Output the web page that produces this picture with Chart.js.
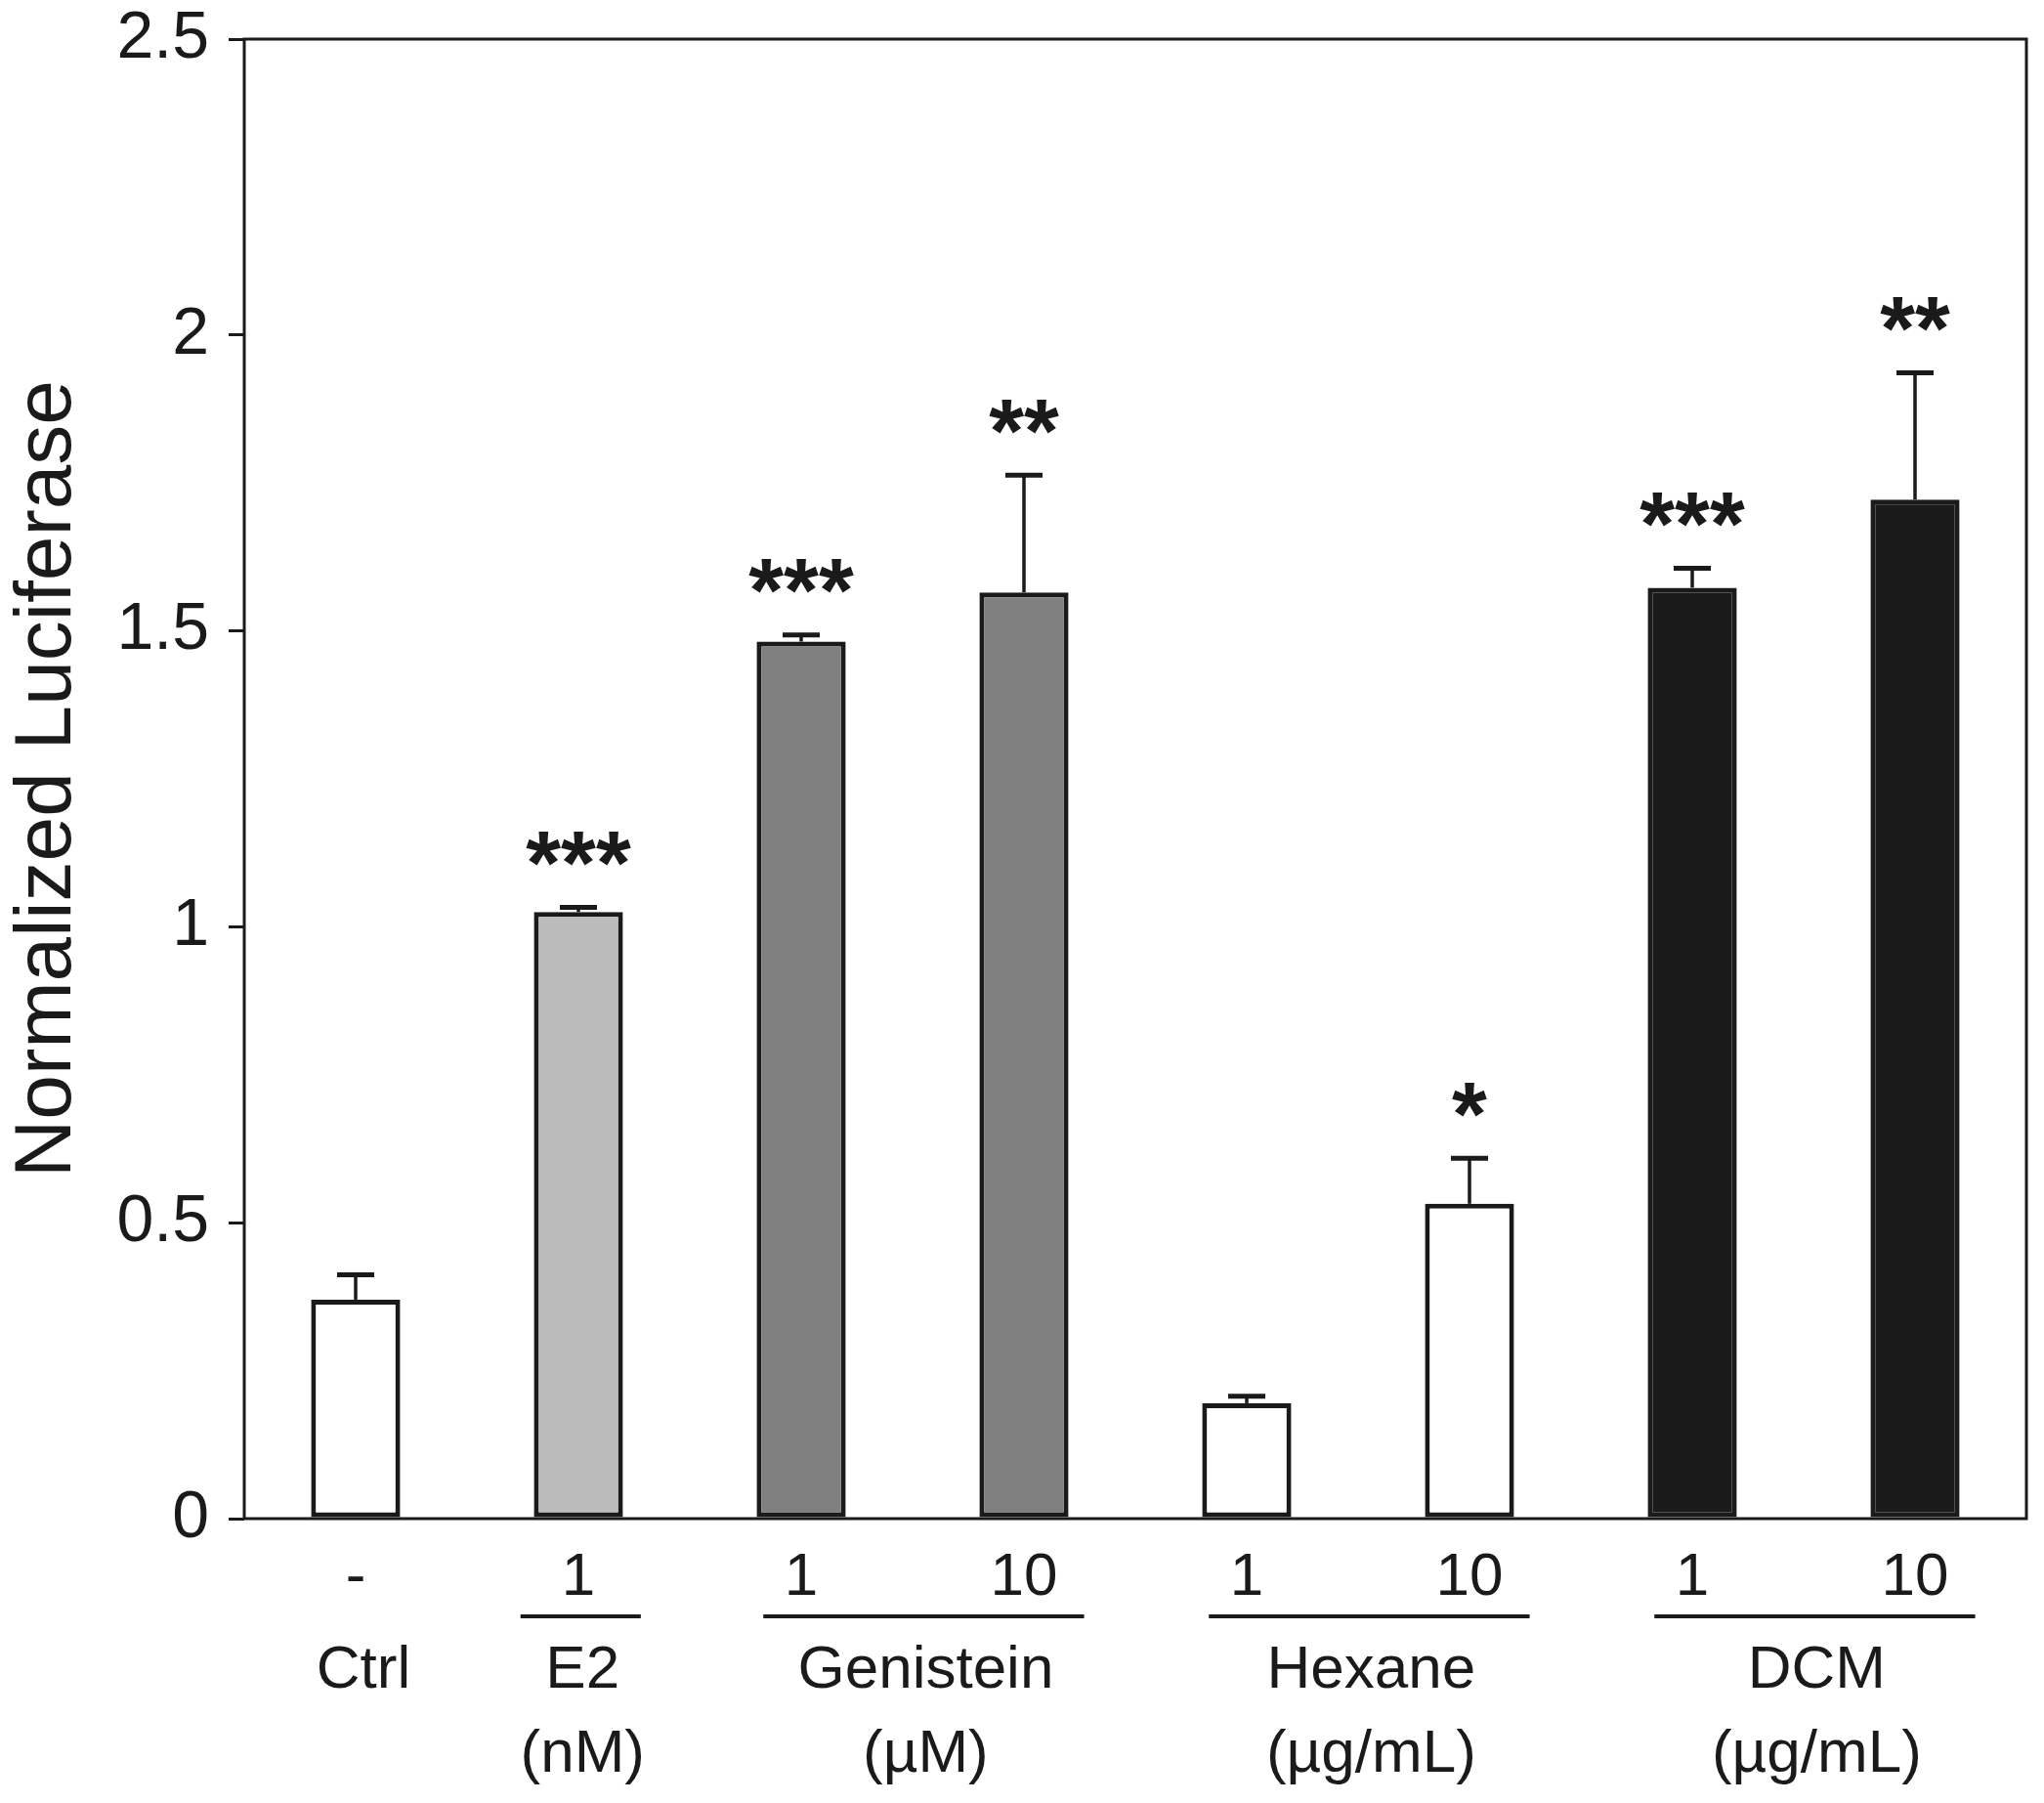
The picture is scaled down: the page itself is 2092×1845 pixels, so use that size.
<!DOCTYPE html>
<html>
<head>
<meta charset="utf-8">
<title>Normalized Luciferase</title>
<script src="https://cdn.jsdelivr.net/npm/chart.js@4.4.1/dist/chart.umd.min.js"></script>
<style>
    html, body { margin: 0; padding: 0; background: #ffffff; }
    #wrap { position: relative; width: 2092px; height: 1845px; }
</style>
</head>
<body>
<div id="wrap"><canvas id="chart_luc"></canvas></div>
<script>
// Data
const doses = ['-', '1', '1', '10', '1', '10', '1', '10'];
const means = [0.37, 1.025, 1.482, 1.565, 0.195, 0.532, 1.573, 1.722];
const errors = [0.042, 0.008, 0.011, 0.198, 0.012, 0.077, 0.033, 0.214];
const stars = ['', '***', '***', '**', '', '*', '***', '**'];
const barColors = ['#ffffff', '#bbbbbb', '#808080', '#808080', '#ffffff', '#ffffff', '#1a1a1a', '#1a1a1a'];
const yTickLabels = ['0', '0.5', '1', '1.5', '2', '2.5'];

// Groups under the x axis: first and last bar index, name, unit
const groupNames = ['Ctrl', 'E2', 'Genistein', 'Hexane', 'DCM'];
const groupUnits = ['', '(nM)', '(µM)', '(µg/mL)', '(µg/mL)'];
const groupFirst = [0, 1, 2, 4, 6];
const groupLast = [0, 1, 3, 5, 7];
const groupLine = [false, true, true, true, true];

const FONT = '"Liberation Sans", Arial, Helvetica, sans-serif';
const INK = '#1a1a1a';

// error bars (upward only) and asterisks
const errorBarPlugin = {
    id: 'errorBars',
    afterDatasetsDraw(chart) {
        const ctx = chart.ctx;
        const x = chart.scales.x;
        const y = chart.scales.y;
        ctx.save();
        ctx.strokeStyle = INK;
        ctx.fillStyle = INK;
        for (let i = 0; i < means.length; i++) {
            const cx = x.getPixelForValue(i);
            const yTop = y.getPixelForValue(means[i]);
            const yErr = y.getPixelForValue(means[i] + errors[i]);
            ctx.lineWidth = 3.5;
            ctx.beginPath();
            ctx.moveTo(cx, yTop);
            ctx.lineTo(cx, yErr);
            ctx.stroke();
            ctx.lineWidth = 5;
            ctx.beginPath();
            ctx.moveTo(cx - 19, yErr);
            ctx.lineTo(cx + 19, yErr);
            ctx.stroke();

            if (stars[i]) {
                ctx.font = 'bold 92px ' + FONT;
                ctx.textAlign = 'center';
                ctx.textBaseline = 'alphabetic';
                ctx.fillText(stars[i], cx, yErr - 66 + 0.57 * 92);
            }
        }
        ctx.restore();
    }
};

// frame round the plot and the group labels below the axis
const framePlugin = {
    id: 'frame',
    afterDraw(chart) {
        const ctx = chart.ctx;
        const a = chart.chartArea;
        const x = chart.scales.x;
        const w = x.getPixelForValue(1) - x.getPixelForValue(0);
        ctx.save();
        ctx.strokeStyle = INK;
        ctx.lineWidth = 3;
        ctx.strokeRect(a.left, a.top, a.right - a.left, a.bottom - a.top);

        ctx.fillStyle = INK;
        ctx.textAlign = 'center';
        ctx.textBaseline = 'middle';
        ctx.font = '62px ' + FONT;
        for (let g = 0; g < groupNames.length; g++) {
            const x0 = x.getPixelForValue(groupFirst[g]);
            const x1 = x.getPixelForValue(groupLast[g]);
            let left = x0 - 0.17 * w;
            let right = x1 + 0.27 * w;
            if (groupFirst[g] === groupLast[g]) {
                left = x0 - 0.26 * w;
                right = x0 + 0.28 * w;
            }
            let mid = (left + right) / 2;
            if (groupLine[g]) {
                ctx.lineWidth = 4;
                ctx.beginPath();
                ctx.moveTo(left, a.bottom + 100);
                ctx.lineTo(right, a.bottom + 100);
                ctx.stroke();
            } else {
                mid = x0 + 6;
            }
            ctx.fillText(groupNames[g], mid + 2, a.bottom + 156);
            if (groupUnits[g]) {
                ctx.fillText(groupUnits[g], mid + 2, a.bottom + 242);
            }
        }
        ctx.restore();
    }
};

const ctx = document.getElementById('chart_luc').getContext('2d');
const myChart = new Chart(ctx, {
    type: 'bar',
    data: {
        labels: doses,
        datasets: [
            {
                data: means,
                backgroundColor: barColors,
                borderColor: INK,
                borderWidth: 5,
                borderSkipped: false,
                barPercentage: 0.4,
                categoryPercentage: 1.0
            }
        ]
    },
    options: {
        responsive: true,
        maintainAspectRatio: false,
        animation: false,
        layout: {
            padding: { left: 0, right: 18, top: 0, bottom: 0 }
        },
        plugins: {
            legend: { display: false },
            tooltip: { enabled: false }
        },
        scales: {
            x: {
                grid: { display: false, drawTicks: false },
                border: { display: false },
                ticks: {
                    color: INK,
                    padding: 24,
                    maxRotation: 0,
                    font: { family: FONT, size: 62 }
                },
                afterFit(scale) { scale.height = 291; }
            },
            y: {
                min: 0,
                max: 2.5,
                grid: {
                    display: true,
                    drawOnChartArea: false,
                    drawTicks: true,
                    tickLength: 16,
                    color: INK,
                    lineWidth: 3
                },
                border: { display: false },
                ticks: {
                    stepSize: 0.5,
                    color: INK,
                    padding: 20,
                    font: { family: FONT, size: 68 },
                    callback: (value, index) => yTickLabels[index]
                },
                title: {
                    display: true,
                    text: 'Normalized Luciferase',
                    color: INK,
                    padding: { top: 0, bottom: 0 },
                    font: { family: FONT, size: 82 }
                },
                afterFit(scale) {
                    scale.width = 250;
                    scale.paddingTop = 40;
                    scale.paddingBottom = 0;
                }
            }
        }
    },
    plugins: [errorBarPlugin, framePlugin]
});
</script>
</body>
</html>
